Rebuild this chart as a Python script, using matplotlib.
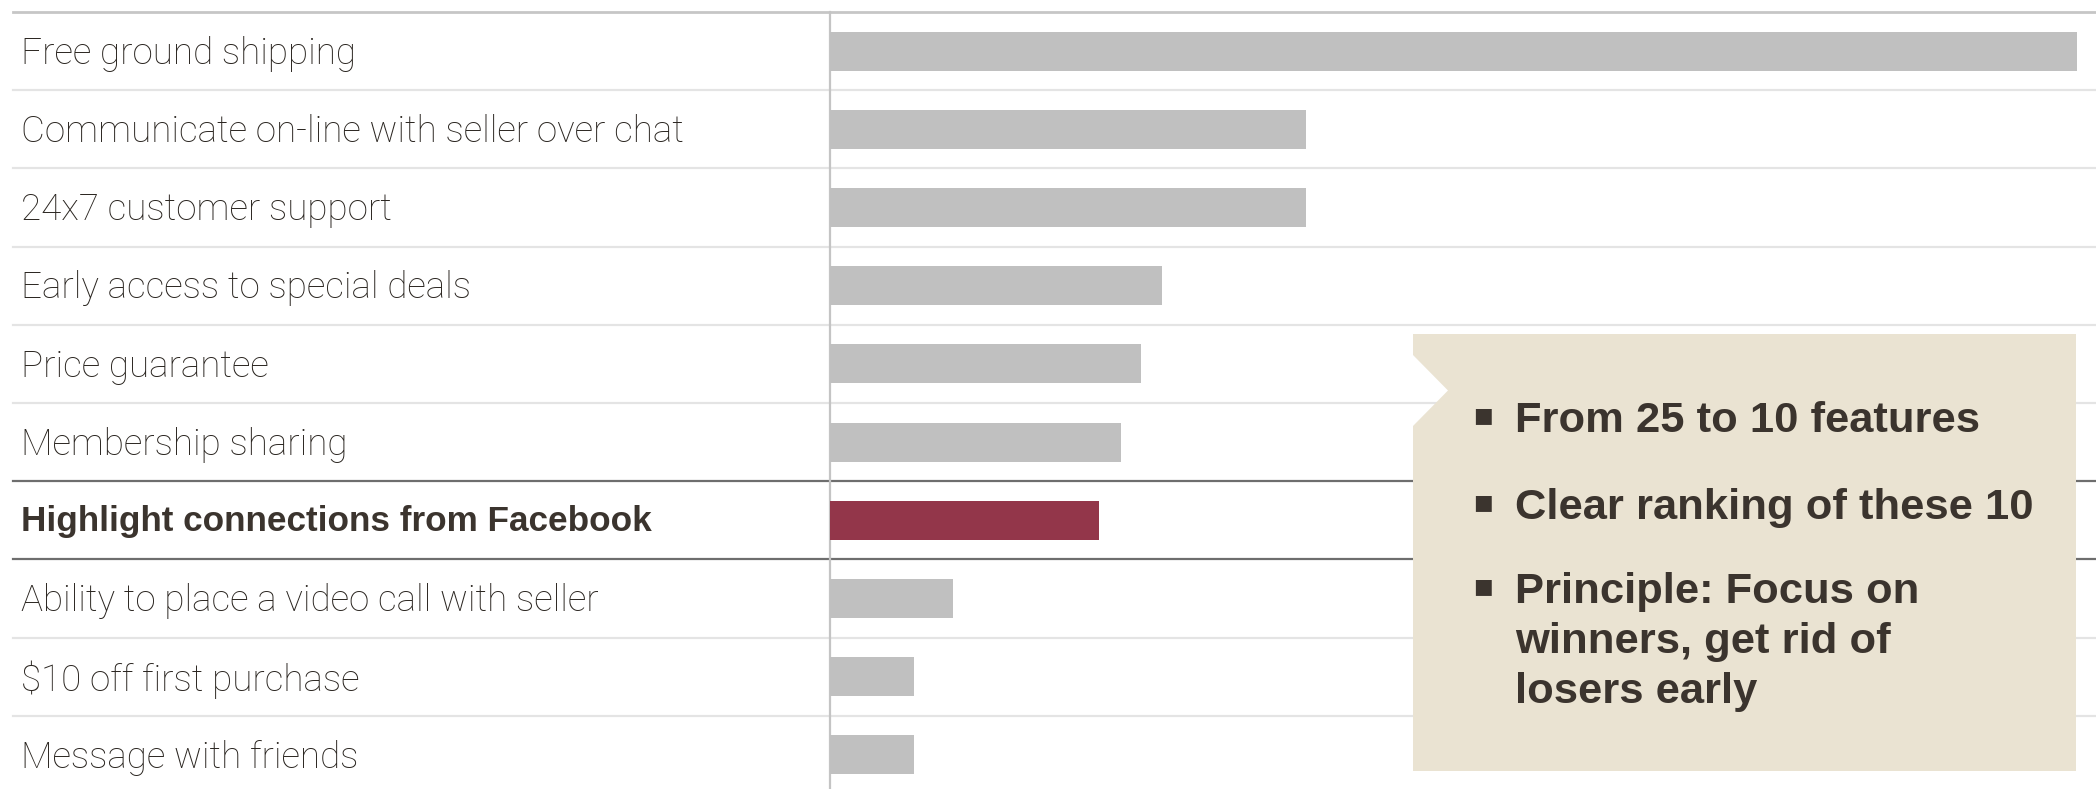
import matplotlib
matplotlib.use('Agg')
import matplotlib.pyplot as plt
from matplotlib.patches import Polygon
import matplotlib.transforms as mtrans

# feature ranking (relative preference score)
features = [
    'Free ground shipping',
    'Communicate on-line with seller over chat',
    '24x7 customer support',
    'Early access to special deals',
    'Price guarantee',
    'Membership sharing',
    'Highlight connections from Facebook',
    'Ability to place a video call with seller',
    '$10 off first purchase',
    'Message with friends',
]
scores = [100, 38.2, 38.2, 26.6, 24.9, 23.3, 21.6, 9.9, 6.7, 6.7]
highlight = 'Highlight connections from Facebook'

notes = [
    'From 25 to 10 features',
    'Clear ranking of these 10',
    'Principle: Focus on\nwinners, get rid of\nlosers early',
]

W, H = 2096, 789
fig = plt.figure(figsize=(W / 100, H / 100), dpi=100)
ax = fig.add_axes([0, 0, 1, 1])

# layout in pixels
top_px = 12
row_px = 78.2
x0_px = 830
x100_px = 2077
ppu = (x100_px - x0_px) / 100.0

ax.set_xlim(-x0_px / ppu, (W - x0_px) / ppu)
top = -0.5 - top_px / row_px
bottom = top + H / row_px
ax.set_ylim(bottom, top)
ax.axis('off')

text_col = '#3b342e'
grey = '#c0c0c0'
red = '#93364a'

light_font = ['Roboto', 'DejaVu Sans']
bold_font = ['Liberation Sans', 'DejaVu Sans']

ys = list(range(len(features)))
colors = [red if f == highlight else grey for f in features]
ax.barh(ys, scores, height=0.5, color=colors, zorder=3)

line_x0 = 13 / W
hi = features.index(highlight)
for i in range(len(features) + 1):
    y = i - 0.5
    if i == 0:
        ax.axhline(y, xmin=line_x0, xmax=1, color='#c6c6c6', lw=2, zorder=1)
    elif i in (hi, hi + 1):
        ax.axhline(y, xmin=line_x0, xmax=1, color='#6e6e6e', lw=1.6, zorder=1)
    else:
        ax.axhline(y, xmin=line_x0, xmax=1, color='#e4e4e4', lw=1.6, zorder=1)

ax.axvline(0, ymin=0, ymax=1 - top_px / H, color='#c4c4c4', lw=1.6, zorder=2)

trans = mtrans.blended_transform_factory(ax.transAxes, ax.transData)
for i, f in enumerate(features):
    if f == highlight:
        ax.text(21 / W, i + 0.02, f, transform=trans, va='center', ha='left',
                fontsize=25.3, fontweight='bold', color=text_col, family=bold_font)
    else:
        ax.text(21 / W, i + 0.035, f, transform=trans, va='center', ha='left',
                fontsize=26.5, fontweight='light', color='#2a2520', family=light_font)

# callout box with notch on the left edge
bx0, bx1 = 1413 / W, 2076 / W
by0, by1 = 1 - 771 / H, 1 - 334 / H
n_top, n_bot, n_tip = 1 - 355 / H, 1 - 426 / H, 1448 / W
box = Polygon([(bx0, by1), (bx1, by1), (bx1, by0), (bx0, by0),
               (bx0, n_bot), (n_tip, (n_top + n_bot) / 2), (bx0, n_top)],
              closed=True, transform=ax.transAxes, facecolor='#eae3d2',
              edgecolor='none', zorder=5)
ax.add_patch(box)

note_y = [416, 503, 587]
for s, yp in zip(notes, note_y):
    ax.text(1483 / W, 1 - yp / H, '\u25aa', transform=ax.transAxes, va='center',
            ha='center', fontsize=23, color=text_col, zorder=6)
    for k, line in enumerate(s.split('\n')):
        base = yp + 16 + 50 * k
        ax.text(1515 / W, 1 - base / H, line, transform=ax.transAxes,
                va='baseline', ha='left', fontsize=31.3, fontweight='bold',
                color=text_col, family=bold_font, zorder=6)

fig.savefig('out.png', dpi=100)
